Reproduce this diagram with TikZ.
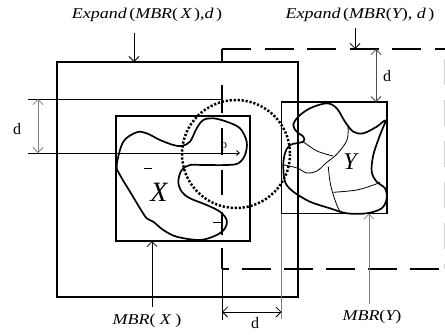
\documentclass[tikz,border=0pt]{standalone}
\usepackage{fontspec}
\setmainfont{Liberation Serif}
\newfontfamily\labfont[FakeStretch=1.2]{Liberation Serif}
\usetikzlibrary{arrows.meta}
\begin{document}
\begin{tikzpicture}[x=1pt,y=-1pt,
  box/.style={draw, line width=1.3pt},
  dbox/.style={line width=2.8pt},
  blob/.style={line width=1.7pt, line join=round},
  thinln/.style={line width=0.8pt},
  arr/.style={line width=0.8pt, -{Straight Barb[length=5pt,width=10pt]}},
  darr/.style={line width=0.8pt, {Straight Barb[length=5pt,width=10pt]}-{Straight Barb[length=5pt,width=10pt]}},
  lab/.style={font=\labfont\fontsize{15}{17}\selectfont, inner sep=0pt},
  dlab/.style={font=\fontsize{16}{18}\selectfont, inner sep=0pt},
]
\useasboundingbox (0,0) rectangle (445,335);
\fill[white] (0,0) rectangle (445,335);

% boxes
\draw[box] (57,62) rectangle (298,297);
\draw[box] (116,116) rectangle (250,241);
\draw[box] (281.5,102) rectangle (387,213.5);

% expanded Y (dashed)
\draw[dbox, dash pattern=on 29pt off 13.5pt] (222,49) -- (445,49);
\draw[dbox, dash pattern=on 28.5pt off 13.5pt, dash phase=22pt] (222,269) -- (445,269);
\draw[dbox, dash pattern=on 14pt off 22pt on 28pt off 15pt on 27pt off 15pt on 25pt off 17pt on 23pt off 13pt on 21pt off 10pt] (222,49) -- (222,269);
\draw[gray!35, line width=1pt, dash pattern=on 26pt off 15pt, dash phase=-10pt] (444,49) -- (444,269);

% circle
\draw[line width=2.5pt, dash pattern=on 2.2pt off 1.8pt] (236,154) circle (54);

% X blob
\draw[blob] plot[smooth cycle, tension=0.55] coordinates {
(116.7,165) (123.3,141.7) (136.7,132.3) (146.7,133.3) (160,140) (173.3,145)
(181.7,146) (190,141.7) (196.7,128.3) (203.3,120) (213.3,118.3) (226.7,121.7)
(240,128.3) (246.7,141.7) (245,155) (238.3,163.3) (226.7,165) (203.3,165)
(190,165) (181.7,170) (178.3,181.7) (181.7,191.7) (190,198.3) (206.7,205)
(220,211.7) (226.7,220) (225,228.3) (216.7,235) (200,240) (176.7,236.7)
(163.3,230) (153.3,221.7) (146.7,218.3) (140,208.3) (130,191.7) (120,175)};

% Y blob
\draw[blob] plot[smooth cycle, tension=0.55] coordinates {
(283.3,165) (285,153.3) (290,145) (303.3,141.7) (303.3,136.7) (296.7,131.7)
(293.3,125) (298.3,116.7) (310,108.3) (326.7,103.3) (336.7,108.3) (345,121.7)
(353.3,131.7) (363.3,133.3) (376.7,126.7) (385.5,120.5) (380,135) (373.3,155)
(371.7,171.7) (376.7,181.7) (385,188.3) (386.7,198.3) (381.7,208.3) (366.7,213.3)
(346.7,213.3) (330,208.3) (310,201.7) (293.3,191.7) (285,181.7)};
\draw[thinln] plot[smooth, tension=0.6] coordinates {(303.3,141.7) (317,151) (333,156)};
\draw[thinln] plot[smooth, tension=0.6] coordinates {(348,126) (347,140) (337,154) (326,163) (317,171) (307,173) (297,168) (284,165)};
\draw[thinln] plot[smooth, tension=0.6] coordinates {(328.3,166.7) (330,181.7) (333.3,195) (338.3,208.3) (342,213.3)};
\draw[thinln] plot[smooth, tension=0.6] coordinates {(333.3,192.3) (356.7,190) (373.3,185) (380,182.3)};

% small marks
\draw[thinln] (144,168.5) -- (152,168.5);
\draw[thinln] (213,222) -- (221,222);

% texts
\node[inner sep=0pt, font=\itshape\fontsize{28}{30}\selectfont] (X) at (159,192) {X};
\node[inner sep=0pt, font=\itshape\fontsize{24}{26}\selectfont] (Y) at (350,162) {Y};
\node[inner sep=0pt, font=\fontsize{12}{14}\selectfont] (p) at (224,147) {p};

\node[lab] (ex) at (147,15) {\itshape Expand\,\upshape(\itshape MBR\upshape(\,\itshape X\,\upshape),\itshape d\,\upshape)};
\node[lab] (ey) at (360,15) {\itshape Expand\,\upshape(\itshape MBR\upshape(\itshape Y\upshape), \itshape d\,\upshape)};
\node[lab] (mx) at (147,321) {\itshape MBR\upshape(\ \itshape X\ \upshape)};
\node[lab] (my) at (372,317) {\itshape MBR\upshape(\itshape Y\upshape)};
\node[dlab] (d1) at (17,129) {d};
\node[dlab] (d2) at (387,76) {d};
\node[dlab] (d3) at (255,323) {d};

% helper coordinates
\coordinate (exs) at (134,33); \coordinate (ext) at (134,62);
\coordinate (eys) at (355,28); \coordinate (eyt) at (355,49);
\coordinate (mxs) at (152,307); \coordinate (mxt) at (152,241);
\coordinate (mys) at (369,304); \coordinate (myt) at (369,213.5);
\coordinate (ltop) at (28,99); \coordinate (ltopE) at (222,99);
\coordinate (lbot) at (28,153); \coordinate (lbotE) at (240,153);
\coordinate (dla) at (38,99); \coordinate (dlb) at (38,153);
\coordinate (dta) at (376,49); \coordinate (dtb) at (376,102);
\coordinate (dba) at (222,312); \coordinate (dbb) at (281.5,312);

% extension lines
\draw[thinln] (ltop) -- (ltopE);
\draw[thinln, -{Straight Barb[length=3pt,width=5pt]}] (lbot) -- (lbotE);
\draw[thinln] (222,269) -- (222,320);
\draw[thinln, gray] (281.5,213.5) -- (281.5,319);

% arrows
\draw[arr] (exs) -- (ext);
\draw[arr] (eys) -- (eyt);
\draw[arr] (mxs) -- (mxt);
\draw[arr, gray] (mys) -- (myt);
\draw[darr, gray] (dla) -- (dlb);
\draw[darr, black!70] (dta) -- (dtb);
\draw[darr] (dba) -- (dbb);
\end{tikzpicture}
\end{document}
